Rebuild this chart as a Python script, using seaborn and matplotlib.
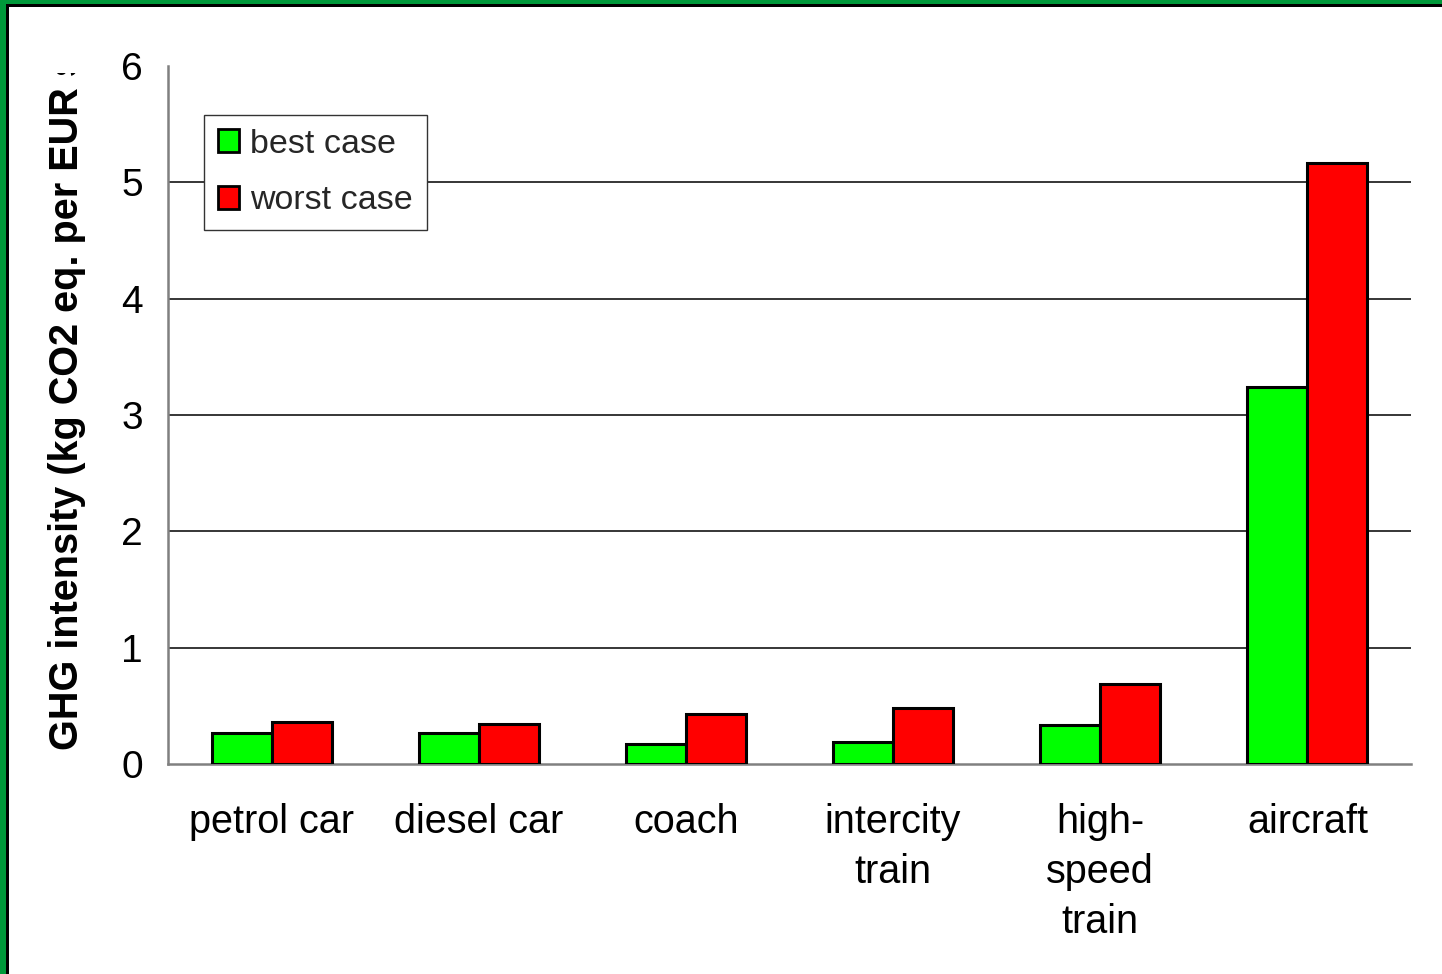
import numpy as np
import pandas as pd
import matplotlib
matplotlib.use("Agg")
import matplotlib.pyplot as plt
import seaborn as sns
from matplotlib.patches import Rectangle, Patch
from matplotlib.transforms import Bbox

# Transport modes and GHG intensity per EUR spent (kg CO2 eq.)
modes = ["petrol car", "diesel car", "coach", "intercity\ntrain",
         "high-\nspeed\ntrain", "aircraft"]
best_case = [0.27, 0.265, 0.17, 0.19, 0.335, 3.24]
worst_case = [0.36, 0.34, 0.43, 0.48, 0.69, 5.17]
scenarios = ["best case", "worst case"]
scenario_colors = ["#00ff00", "#ff0000"]
y_ticks = [0, 1, 2, 3, 4, 5, 6]
y_label = "GHG intensity (kg CO2 eq. per EUR spent)"

sns.set_theme(style="white")
plt.rcParams["font.family"] = ["Liberation Sans", "DejaVu Sans"]

df = pd.DataFrame({
    "mode": modes * 2,
    "scenario": [scenarios[0]] * len(modes) + [scenarios[1]] * len(modes),
    "value": best_case + worst_case,
})

W, H = 1442, 974
fig = plt.figure(figsize=(W / 100, H / 100), dpi=100)
fig.patch.set_facecolor("white")

x0, x1, y0, y1 = 168, 1411, 764, 66
ax = fig.add_axes([x0 / W, 1 - y0 / H, (x1 - x0) / W, (y0 - y1) / H])
ax.set_facecolor("white")

sns.barplot(data=df, x="mode", y="value", hue="scenario", order=modes,
            hue_order=scenarios, palette=scenario_colors, saturation=1,
            width=0.58, edgecolor="black", linewidth=2.2, errorbar=None,
            legend=False, ax=ax, zorder=3)

ax.set_xlim(-0.5, len(modes) - 0.5)
ax.set_ylim(y_ticks[0], y_ticks[-1])

# horizontal gridlines between the first and last tick
for v in y_ticks[1:-1]:
    ax.axhline(v, color="black", lw=1.1, zorder=1)

for side in ["top", "right"]:
    ax.spines[side].set_visible(False)
for side in ["left", "bottom"]:
    ax.spines[side].set_color("#808080")
    ax.spines[side].set_linewidth(1.8)

ax.set_yticks(y_ticks)
ax.set_yticklabels([str(t) for t in y_ticks])
ax.tick_params(axis="y", direction="in", length=8.5, width=1.5,
               color="#808080", labelsize=28, pad=18, labelcolor="black")

ax.set_xticks(range(len(modes)))
ax.set_xticklabels(modes, linespacing=1.4)
ax.tick_params(axis="x", which="major", length=0, labelsize=28.5, pad=28,
               labelcolor="black")
ax.set_xticks(np.arange(-0.5, len(modes), 1), minor=True)
ax.tick_params(axis="x", which="minor", direction="in", length=6, width=1.3,
               color="black")
ax.set_xlabel("")
ax.set_ylabel("")

handles = [Patch(facecolor=c, edgecolor="black", linewidth=2.0)
           for c in scenario_colors]
leg = ax.legend(handles, scenarios, loc="upper left",
                bbox_to_anchor=((204 - x0) / (x1 - x0), 1 - (115 - y1) / (y0 - y1)),
                fontsize=24.5, frameon=True, fancybox=False, edgecolor="#333333",
                framealpha=1, handlelength=0.64, handleheight=0.64,
                handletextpad=0.32, labelspacing=0.76, borderpad=0.4,
                borderaxespad=0)
leg.get_frame().set_linewidth(1.0)
leg.set_zorder(5)

# rotated axis title, cut off at the top of the figure panel
t = fig.text(67 / W, 1 - 750 / H, y_label, rotation=90, fontsize=28.5,
             fontweight="bold", ha="center", va="bottom", color="black")
t.set_clip_box(Bbox([[0, 0], [W, H - 73]]))
t.set_clip_on(True)

# green slide frame with black inner edge (left and top sides)
green = "#00993a"
fig.add_artist(Rectangle((0, 0), 6 / W, 1, transform=fig.transFigure,
                         facecolor=green, edgecolor="none"))
fig.add_artist(Rectangle((0, 1 - 3.5 / H), 1, 3.5 / H, transform=fig.transFigure,
                         facecolor=green, edgecolor="none"))
fig.add_artist(Rectangle((6 / W, 0), 2.5 / W, 1 - 3.5 / H, transform=fig.transFigure,
                         facecolor="black", edgecolor="none"))
fig.add_artist(Rectangle((6 / W, 1 - 6.5 / H), 1, 3 / H, transform=fig.transFigure,
                         facecolor="black", edgecolor="none"))

fig.savefig("out.png", dpi=100)
